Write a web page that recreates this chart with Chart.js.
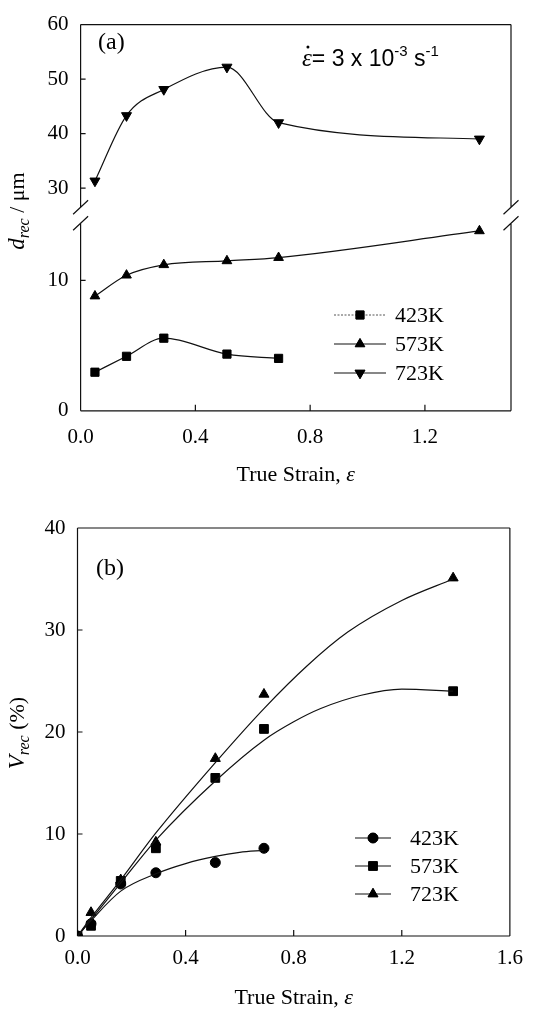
<!DOCTYPE html>
<html><head><meta charset="utf-8">
<script src="https://cdn.jsdelivr.net/npm/chart.js@4"></script>
<style>
html,body{margin:0;padding:0;background:#fff;}
#wrap{position:relative;width:533px;height:1012px;overflow:hidden;}
.box{position:absolute;left:0;width:533px;}
</style></head><body>
<div id="wrap">
<div class="box" style="top:0;height:490px"><canvas id="cA" width="533" height="490"></canvas></div>
<div class="box" style="top:490px;height:522px"><canvas id="cB" width="533" height="522"></canvas></div>
</div>
<script>
// ---------- data: panel (a) ----------
const strainA = [0.05, 0.16, 0.29, 0.51, 0.69, 1.39];
const dRec423 = [2.96, 4.18, 5.57, 4.35, 4.02];
const dRec573 = [8.8, 10.4, 11.2, 11.5, 11.75, 13.8];
const dRec723 = [31.3, 43.3, 48.1, 52.2, 42.0, 39.0];
const xTicksA = [0, 0.4, 0.8, 1.2];
const yTicksAHigh = [30, 40, 50, 60];
const yTicksALow = [0, 10];

// ---------- data: panel (b) ----------
const strainB = [0, 0.05, 0.16, 0.29, 0.51, 0.69, 1.39];
const vRec423 = [0, 1.2, 5.1, 6.2, 7.2, 8.6];
const vRec573 = [0, 1.0, 5.4, 8.6, 15.5, 20.3, 24.0];
const vRec723 = [0, 2.3, 5.5, 9.2, 17.4, 23.7, 35.1];
// trend curves
const fitStrain423 = [0, 0.05, 0.16, 0.29, 0.4, 0.51, 0.6, 0.69];
const fit423 = [0, 1.5, 4.4, 6.1, 7.1, 7.8, 8.2, 8.4];
const fitStrain573 = [0, 0.05, 0.16, 0.29, 0.51, 0.69, 0.8, 0.9, 1.05, 1.2, 1.39];
const fit573 = [0, 1.6, 5.2, 9.4, 15.2, 19.2, 21.0, 22.3, 23.6, 24.2, 24.0];
const fitStrain723 = [0, 0.05, 0.16, 0.29, 0.51, 0.69, 0.85, 1.0, 1.2, 1.39];
const fit723 = [0, 1.8, 5.5, 10.1, 17.0, 22.3, 26.5, 29.8, 32.9, 35.0];
const xTicksB = [0, 0.4, 0.8, 1.2, 1.6];
const yTicksB = [0, 10, 20, 30, 40];

const legendLabels = ['423K', '573K', '723K'];
const xTitle = 'True Strain, ';
const epsilon = 'ε';

// ---------- helpers ----------
const serif = '"Liberation Serif", "Times New Roman", serif';
const sans = '"Liberation Sans", Arial, sans-serif';
const INK = '#111';
const toXY = (xs, ys) => ys.map((y, i) => ({x: xs[i], y}));
const setTicks = arr => s => { s.ticks = arr.map(v => ({value: v})); };

function drawSegments(ctx, segs, x, y, align) {
  let total = 0;
  segs.forEach(s => { ctx.font = s.font; s.w = ctx.measureText(s.t).width; total += s.w; });
  let cx = align === 'center' ? x - total / 2 : x;
  ctx.textBaseline = 'alphabetic';
  ctx.textAlign = 'left';
  segs.forEach(s => { ctx.font = s.font; ctx.fillText(s.t, cx, y + (s.dy || 0)); cx += s.w; });
}

function drawPointStyle(ctx, style, rot, r, x, y) {
  ctx.save();
  ctx.fillStyle = '#000'; ctx.strokeStyle = '#000'; ctx.lineWidth = 1;
  Chart.helpers.drawPoint(ctx, {pointStyle: style, rotation: rot, radius: r, borderWidth: 1}, x, y);
  ctx.fill();
  ctx.restore();
}

function drawFrame(ctx, area, breakY, xScale, yScales, xTickVals) {
  ctx.save();
  ctx.strokeStyle = INK; ctx.lineWidth = 1.2;
  const {left, right, top, bottom} = area;
  ctx.beginPath();
  ctx.moveTo(left, top); ctx.lineTo(right, top);
  ctx.moveTo(left, bottom); ctx.lineTo(right, bottom);
  if (breakY == null) {
    ctx.moveTo(left, top); ctx.lineTo(left, bottom);
    ctx.moveTo(right, top); ctx.lineTo(right, bottom);
  } else {
    const g = 8;
    [left, right].forEach(xx => {
      ctx.moveTo(xx, top); ctx.lineTo(xx, breakY - g);
      ctx.moveTo(xx, breakY + g); ctx.lineTo(xx, bottom);
      [breakY - g, breakY + g].forEach(yy => {
        ctx.moveTo(xx - 7.5, yy + 7); ctx.lineTo(xx + 7.5, yy - 7);
      });
    });
  }
  xTickVals.forEach(v => {
    const px = xScale.getPixelForValue(v);
    if (px > left + 1 && px < right - 1) { ctx.moveTo(px, bottom); ctx.lineTo(px, bottom - 6); }
  });
  yScales.forEach(([sc, vals]) => vals.forEach(v => {
    const py = sc.getPixelForValue(v);
    if (py > top + 1 && py < bottom - 1) { ctx.moveTo(left, py); ctx.lineTo(left + 5, py); }
  }));
  ctx.stroke();
  ctx.restore();
}

function drawLegend(ctx, styles, x1, x2, xm, xt, ys, dashFirst) {
  ctx.save();
  ys.forEach((y, i) => {
    ctx.save();
    ctx.strokeStyle = INK; ctx.lineWidth = 1.1;
    if (dashFirst && i === 0) { ctx.setLineDash([2, 1.5]); ctx.strokeStyle = '#555'; ctx.lineWidth = 1; }
    ctx.beginPath(); ctx.moveTo(x1, y); ctx.lineTo(x2, y); ctx.stroke();
    ctx.restore();
    drawPointStyle(ctx, styles[i][0], styles[i][1], styles[i][2], xm, y);
    ctx.fillStyle = '#000';
    ctx.font = '22px ' + serif;
    ctx.textBaseline = 'middle'; ctx.textAlign = 'left';
    ctx.fillText(legendLabels[i], xt, y + 1);
  });
  ctx.restore();
}

function tickFont() { return {family: serif, size: 21}; }

// ---------- panel (a) ----------
const lineDs = (label, data, axis, style, rot, r) => ({
  label, data, yAxisID: axis, showLine: true, cubicInterpolationMode: 'monotone',
  borderColor: INK, borderWidth: 1.2, pointStyle: style, pointRotation: rot, pointRadius: r,
  pointBackgroundColor: '#000', pointBorderColor: '#000', pointBorderWidth: 1
});

const decoA = {
  id: 'decoA',
  beforeDatasetsDraw(chart) {
    const ctx = chart.ctx, s = chart.scales;
    drawFrame(ctx, chart.chartArea, s.yLow.top, s.x, [[s.yHigh, yTicksAHigh], [s.yLow, yTicksALow]], xTicksA);
  },
  afterDraw(chart) {
    const ctx = chart.ctx, a = chart.chartArea;
    ctx.save();
    ctx.fillStyle = '#000';
    drawSegments(ctx, [{t: xTitle, font: '22px ' + serif}, {t: epsilon, font: 'italic 22px ' + serif}], (a.left + a.right) / 2, 481, 'center');
    ctx.save(); ctx.translate(24, 211); ctx.rotate(-Math.PI / 2);
    drawSegments(ctx, [{t: 'd', font: 'italic 23px ' + serif}, {t: 'rec', font: 'italic 16px ' + serif, dy: 5}, {t: ' / μm', font: '22px ' + serif}], 0, 0, 'center');
    ctx.restore();
    ctx.font = '24px ' + serif; ctx.textAlign = 'left'; ctx.textBaseline = 'alphabetic';
    ctx.fillText('(a)', 98, 49);
    const segs = [{t: 'ε', font: 'italic 25px ' + serif}, {t: '= 3 x 10', font: '23px ' + sans}, {t: '-3', font: '15px ' + sans, dy: -10}, {t: ' s', font: '23px ' + sans}, {t: '-1', font: '15px ' + sans, dy: -10}];
    drawSegments(ctx, segs, 302, 66, 'left');
    ctx.beginPath(); ctx.arc(302 + segs[0].w / 2 + 1, 47, 1.5, 0, Math.PI * 2); ctx.fill();
    ctx.restore();
    drawLegend(ctx, [['rect', 0, 5.8], ['triangle', 0, 5.6], ['triangle', 180, 5.8]], 334, 386, 360, 395, [315, 344, 373], true);
  }
};

new Chart(document.getElementById('cA'), {
  type: 'scatter',
  data: {datasets: [
    lineDs('423K', toXY(strainA, dRec423), 'yLow', 'rect', 0, 5.8),
    lineDs('573K', toXY(strainA, dRec573), 'yLow', 'triangle', 0, 5.6),
    lineDs('723K', toXY(strainA, dRec723), 'yHigh', 'triangle', 180, 5.8)
  ]},
  options: {
    responsive: false, animation: false, devicePixelRatio: 1,
    layout: {padding: {top: 13.6, right: 22, bottom: 0, left: 0}},
    plugins: {legend: {display: false}, tooltip: {enabled: false}},
    scales: {
      x: {type: 'linear', position: 'bottom', min: 0, max: 1.5,
        grid: {display: false, drawTicks: false}, border: {display: false},
        ticks: {font: tickFont(), color: '#000', padding: 14, maxRotation: 0, callback: v => Number(v).toFixed(1)},
        afterBuildTicks: setTicks(xTicksA), afterFit: s => { s.height = 79.2; }},
      yLow: {type: 'linear', position: 'left', stack: 'y', stackWeight: 201, min: 0, max: 15,
        grid: {display: false, drawTicks: false}, border: {display: false},
        ticks: {font: tickFont(), color: '#000', padding: 12},
        afterBuildTicks: setTicks(yTicksALow), afterFit: s => { s.width = 80.6; }},
      yHigh: {type: 'linear', position: 'left', stack: 'y', stackWeight: 196, min: 25, max: 60,
        grid: {display: false, drawTicks: false}, border: {display: false},
        ticks: {font: tickFont(), color: '#000', padding: 12},
        afterBuildTicks: setTicks(yTicksAHigh), afterFit: s => { s.width = 80.6; }}
    }
  },
  plugins: [decoA]
});

// ---------- panel (b) ----------
const markDs = (label, data, style, r) => ({
  label, data, showLine: false, pointStyle: style, pointRadius: r,
  pointBackgroundColor: '#000', pointBorderColor: '#000', pointBorderWidth: 1
});
const fitDs = (data) => ({
  label: 'fit', data, showLine: true, cubicInterpolationMode: 'monotone',
  borderColor: INK, borderWidth: 1.2, pointRadius: 0
});

const decoB = {
  id: 'decoB',
  beforeDatasetsDraw(chart) {
    const s = chart.scales;
    drawFrame(chart.ctx, chart.chartArea, null, s.x, [[s.y, yTicksB]], xTicksB);
  },
  afterDraw(chart) {
    const ctx = chart.ctx, a = chart.chartArea;
    ctx.save();
    ctx.fillStyle = '#000';
    drawSegments(ctx, [{t: xTitle, font: '22px ' + serif}, {t: epsilon, font: 'italic 22px ' + serif}], (a.left + a.right) / 2, 514, 'center');
    ctx.save(); ctx.translate(24, 243); ctx.rotate(-Math.PI / 2);
    drawSegments(ctx, [{t: 'V', font: 'italic 23px ' + serif}, {t: 'rec', font: 'italic 16px ' + serif, dy: 5}, {t: ' (%)', font: '22px ' + serif}], 0, 0, 'center');
    ctx.restore();
    ctx.font = '24px ' + serif; ctx.textAlign = 'left'; ctx.textBaseline = 'alphabetic';
    ctx.fillText('(b)', 96, 85);
    ctx.restore();
    drawLegend(ctx, [['circle', 0, 5], ['rect', 0, 6.2], ['triangle', 0, 5.8]], 355, 391, 373, 410, [348, 376, 404], false);
  }
};

new Chart(document.getElementById('cB'), {
  type: 'scatter',
  data: {datasets: [
    fitDs(toXY(fitStrain423, fit423)),
    fitDs(toXY(fitStrain573, fit573)),
    fitDs(toXY(fitStrain723, fit723)),
    markDs('423K', toXY(strainB, vRec423), 'circle', 5),
    markDs('573K', toXY(strainB, vRec573), 'rect', 6.2),
    markDs('723K', toXY(strainB, vRec723), 'triangle', 5.8)
  ]},
  options: {
    responsive: false, animation: false, devicePixelRatio: 1,
    layout: {padding: {top: 38, right: 14.6, bottom: 0, left: 0}},
    plugins: {legend: {display: false}, tooltip: {enabled: false}},
    scales: {
      x: {type: 'linear', position: 'bottom', min: 0, max: 1.6,
        grid: {display: false, drawTicks: false}, border: {display: false},
        ticks: {font: tickFont(), color: '#000', padding: 10, maxRotation: 0, callback: v => Number(v).toFixed(1)},
        afterBuildTicks: setTicks(xTicksB), afterFit: s => { s.height = 76; }},
      y: {type: 'linear', position: 'left', min: 0, max: 40,
        grid: {display: false, drawTicks: false}, border: {display: false},
        ticks: {font: tickFont(), color: '#000', padding: 12},
        afterBuildTicks: setTicks(yTicksB), afterFit: s => { s.width = 77.5; }}
    }
  },
  plugins: [decoB]
});
</script>
</body></html>
